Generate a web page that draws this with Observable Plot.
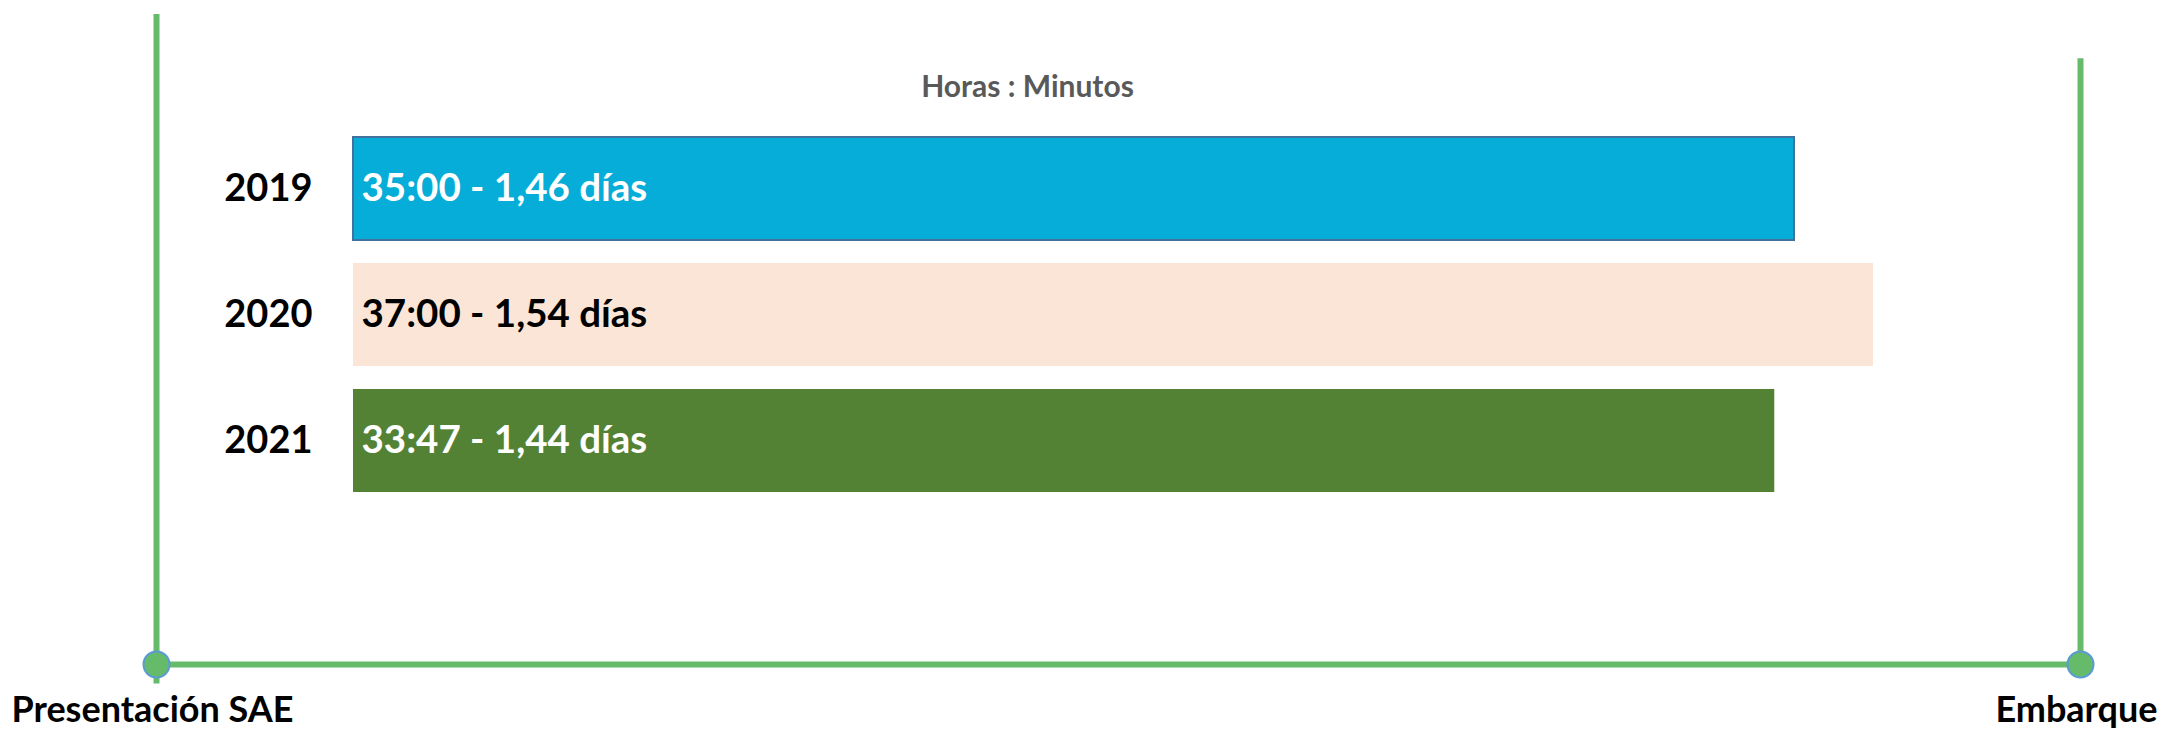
<!DOCTYPE html>
<html><head><meta charset="utf-8">
<script src="https://cdn.jsdelivr.net/npm/d3@7"></script>
<script src="https://cdn.jsdelivr.net/npm/@observablehq/plot@0.6"></script>
<style>
body{margin:0;background:#fff}
#c{position:relative;width:2170px;height:734px}
#c svg{position:absolute;left:0;top:0}
</style>
</head><body><div id="c"></div>
<script>
const years = ["2019", "2020", "2021"];
const hoursLabels = ["35:00", "37:00", "33:47"];
const daysValues = [1.46, 1.54, 1.44];
const daysLabels = ["1,46", "1,54", "1,44"];
const milestones = ["Presentación SAE", "Embarque"];
const unitsLabel = "Horas : Minutos";
const barColors = ["#05ADD8", "#FBE5D6", "#548235"];
const textColors = ["#FFFFFF", "#000000", "#FFFFFF"];

const rows = years.map((y, i) => ({year: y, days: daysValues[i], label: `${hoursLabels[i]} - ${daysLabels[i]} días`}));
const green = "#66BB6A";
const font = "Lato, 'Open Sans', sans-serif";

const timeline = Plot.plot({
  width: 2170, height: 734, margin: 0,
  style: {fontFamily: font, background: "transparent", overflow: "visible"},
  x: {type: "point", domain: milestones, range: [156, 2080], padding: 0, axis: null},
  y: {domain: [0, 1], range: [664, 14], axis: null},
  marks: [
    Plot.ruleY([0], {x1: () => milestones[0], x2: () => milestones[1], stroke: green, strokeWidth: 6}),
    Plot.ruleX([milestones[0]], {y1: -0.03, y2: 1, stroke: green, strokeWidth: 6}),
    Plot.ruleX([milestones[1]], {y1: 0, y2: 0.932, stroke: green, strokeWidth: 6}),
    Plot.dot(milestones, {x: d => d, y: 0, r: 13, fill: green, stroke: "#5B9BD5", strokeWidth: 2}),
    Plot.text(milestones, {x: d => d, y: 0, text: d => d, dy: 46, dx: -4, fontSize: 36, fontWeight: "bold", fill: "#000"})
  ]
});

const bars = Plot.plot({
  width: 2170, height: 734, margin: 0,
  style: {fontFamily: font, background: "transparent", overflow: "visible"},
  x: {domain: [0, 1], range: [353, 1340], axis: null},
  y: {domain: years, range: [136, 494], paddingInner: 0.18, paddingOuter: 0, axis: null},
  color: {domain: years, range: barColors},
  marks: [
    Plot.barX(rows, {x: "days", y: "year", fill: "year"}),
    Plot.barX(rows, {filter: d => d.year === years[0], x: "days", y: "year", fill: "none", stroke: "#41719C", strokeWidth: 2}),
    ...rows.map((r, i) => Plot.text([r], {x: 0, y: "year", text: "label", textAnchor: "start", dx: 8, fontSize: 38.5, fontWeight: "bold", fill: textColors[i]})),
    Plot.text(rows, {x: 0, y: "year", text: "year", textAnchor: "end", dx: -41, fontSize: 38, fontWeight: "bold", fill: "#000"}),
    Plot.text([unitsLabel], {frameAnchor: "top", text: d => d, dx: -58, dy: 87, lineAnchor: "middle", fontSize: 30, fontWeight: "bold", fill: "#595959"})
  ]
});

document.getElementById("c").append(timeline, bars);
</script>
</body></html>
